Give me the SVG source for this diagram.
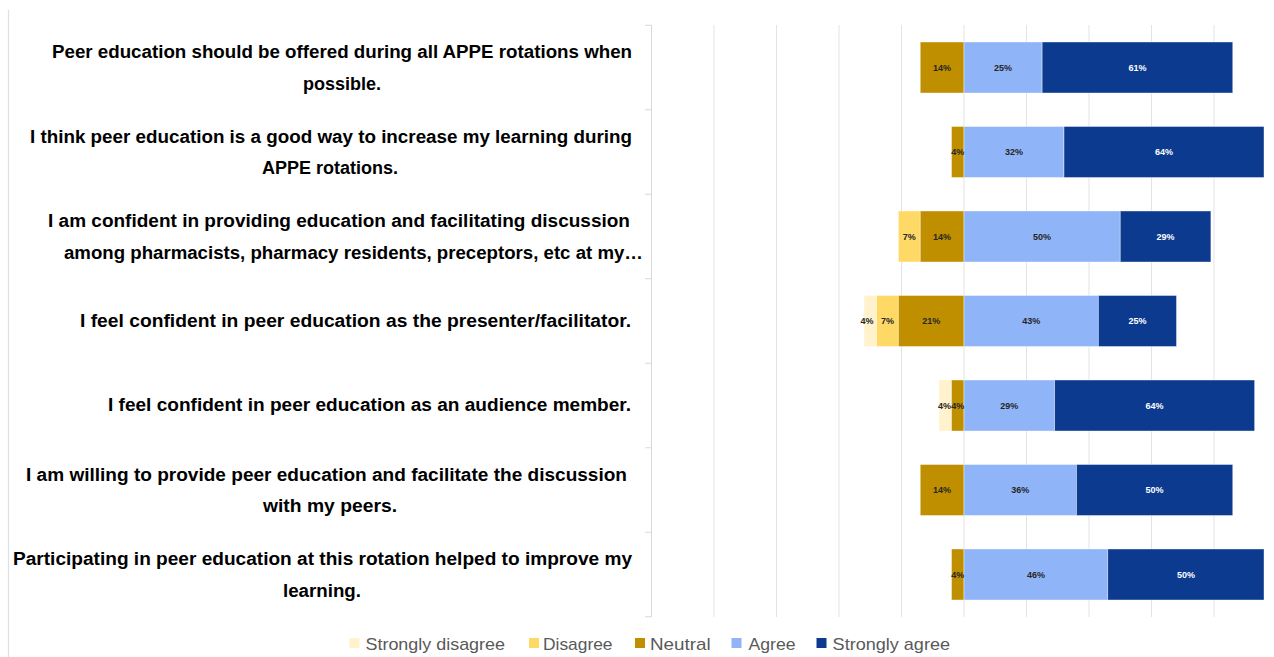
<svg xmlns="http://www.w3.org/2000/svg" width="1274" height="657" viewBox="0 0 1274 657">
<style>
.cat{font-family:"Liberation Sans",Arial,sans-serif;font-weight:bold;font-size:18px;fill:#000}
.dl{font-family:"Liberation Sans",Arial,sans-serif;font-weight:bold;font-size:9px;fill:#262626;text-anchor:middle}
.dlw{fill:#ffffff}
.lg{font-family:"Liberation Sans",Arial,sans-serif;font-size:17px;fill:#595959}
.grid{stroke:#e3e3e3;stroke-width:1;fill:none}
.sd{fill:#FFF2CC}.d{fill:#FFD966}.n{fill:#BF8F00}.a{fill:#8FB4F7}.sa{fill:#0B3A8F}
.seg{stroke:#ffffff;stroke-opacity:0.5;stroke-width:0.8}
</style>
<rect x="0" y="0" width="1274" height="657" fill="#ffffff"/>
<line x1="8.5" y1="10" x2="8.5" y2="657" stroke="#e0e0e0" stroke-width="1.2"/>
<g id="gridlines">
<line class="grid" x1="714" y1="25" x2="714" y2="617"/>
<line class="grid" x1="776.5" y1="25" x2="776.5" y2="617"/>
<line class="grid" x1="839" y1="25" x2="839" y2="617"/>
<line class="grid" x1="901.5" y1="25" x2="901.5" y2="617"/>
<line class="grid" x1="964" y1="25" x2="964" y2="617"/>
<line class="grid" x1="1026.5" y1="25" x2="1026.5" y2="617"/>
<line class="grid" x1="1089" y1="25" x2="1089" y2="617"/>
<line class="grid" x1="1151.5" y1="25" x2="1151.5" y2="617"/>
<line class="grid" x1="1214" y1="25" x2="1214" y2="617"/>
<line x1="651.5" y1="25" x2="651.5" y2="617" stroke="#d9d9d9" stroke-width="1"/>
<path d="M645 25.25H651.5M645 109.75H651.5M645 194.25H651.5M645 278.75H651.5M645 363.25H651.5M645 447.75H651.5M645 532.25H651.5M645 616.75H651.5" stroke="#d9d9d9" stroke-width="1"/>
</g>
<g id="connectors"></g>
<g id="row1">
<text class="cat" x="52" y="58" textLength="580" lengthAdjust="spacingAndGlyphs">Peer education should be offered during all APPE rotations when</text>
<text class="cat" x="303" y="90" textLength="78" lengthAdjust="spacingAndGlyphs">possible.</text>
<rect class="n seg" x="920.25" y="42" width="43.75" height="51"/>
<rect class="a seg" x="964" y="42" width="78.125" height="51"/>
<rect class="sa seg" x="1042.125" y="42" width="190.625" height="51"/>
<text class="dl" x="942.1" y="70.5">14%</text>
<text class="dl" x="1003.1" y="70.5">25%</text>
<text class="dl dlw" x="1137.4" y="70.5">61%</text>
</g>
<g id="row2">
<text class="cat" x="30" y="143" textLength="602" lengthAdjust="spacingAndGlyphs">I think peer education is a good way to increase my learning during</text>
<text class="cat" x="262" y="174" textLength="136" lengthAdjust="spacingAndGlyphs">APPE rotations.</text>
<rect class="n seg" x="951.5" y="126.5" width="12.5" height="51"/>
<rect class="a seg" x="964" y="126.5" width="100" height="51"/>
<rect class="sa seg" x="1064" y="126.5" width="200" height="51"/>
<text class="dl" x="957.75" y="155">4%</text>
<text class="dl" x="1014" y="155">32%</text>
<text class="dl dlw" x="1164" y="155">64%</text>
</g>
<g id="row3">
<text class="cat" x="48" y="227" textLength="582" lengthAdjust="spacingAndGlyphs">I am confident in providing education and facilitating discussion</text>
<text class="cat" x="64" y="259" textLength="579" lengthAdjust="spacingAndGlyphs">among pharmacists, pharmacy residents, preceptors, etc at my…</text>
<rect class="d seg" x="898.375" y="211" width="21.875" height="51"/>
<rect class="n seg" x="920.25" y="211" width="43.75" height="51"/>
<rect class="a seg" x="964" y="211" width="156.25" height="51"/>
<rect class="sa seg" x="1120.25" y="211" width="90.625" height="51"/>
<text class="dl" x="909.3" y="239.5">7%</text>
<text class="dl" x="942.1" y="239.5">14%</text>
<text class="dl" x="1042.1" y="239.5">50%</text>
<text class="dl dlw" x="1165.6" y="239.5">29%</text>
</g>
<g id="row4">
<text class="cat" x="80" y="327" textLength="551" lengthAdjust="spacingAndGlyphs">I feel confident in peer education as the presenter/facilitator.</text>
<rect class="sd seg" x="864" y="295.5" width="12.5" height="51"/>
<rect class="d seg" x="876.5" y="295.5" width="21.875" height="51"/>
<rect class="n seg" x="898.375" y="295.5" width="65.625" height="51"/>
<rect class="a seg" x="964" y="295.5" width="134.375" height="51"/>
<rect class="sa seg" x="1098.375" y="295.5" width="78.125" height="51"/>
<text class="dl" x="867" y="324">4%</text>
<text class="dl" x="887.4" y="324">7%</text>
<text class="dl" x="931.2" y="324">21%</text>
<text class="dl" x="1031.2" y="324">43%</text>
<text class="dl dlw" x="1137.4" y="324">25%</text>
</g>
<g id="row5">
<text class="cat" x="108" y="411" textLength="523" lengthAdjust="spacingAndGlyphs">I feel confident in peer education as an audience member.</text>
<rect class="sd seg" x="939" y="380" width="12.5" height="51"/>
<rect class="n seg" x="951.5" y="380" width="12.5" height="51"/>
<rect class="a seg" x="964" y="380" width="90.625" height="51"/>
<rect class="sa seg" x="1054.625" y="380" width="200" height="51"/>
<text class="dl" x="944.5" y="408.5">4%</text>
<text class="dl" x="957.75" y="408.5">4%</text>
<text class="dl" x="1009.3" y="408.5">29%</text>
<text class="dl dlw" x="1154.6" y="408.5">64%</text>
</g>
<g id="row6">
<text class="cat" x="26" y="481" textLength="601" lengthAdjust="spacingAndGlyphs">I am willing to provide peer education and facilitate the discussion</text>
<text class="cat" x="263" y="512" textLength="134" lengthAdjust="spacingAndGlyphs">with my peers.</text>
<rect class="n seg" x="920.25" y="464.5" width="43.75" height="51"/>
<rect class="a seg" x="964" y="464.5" width="112.5" height="51"/>
<rect class="sa seg" x="1076.5" y="464.5" width="156.25" height="51"/>
<text class="dl" x="942.1" y="493">14%</text>
<text class="dl" x="1020.25" y="493">36%</text>
<text class="dl dlw" x="1154.6" y="493">50%</text>
</g>
<g id="row7">
<text class="cat" x="13" y="565" textLength="619" lengthAdjust="spacingAndGlyphs">Participating in peer education at this rotation helped to improve my</text>
<text class="cat" x="283" y="597" textLength="78" lengthAdjust="spacingAndGlyphs">learning.</text>
<rect class="n seg" x="951.5" y="549" width="12.5" height="51"/>
<rect class="a seg" x="964" y="549" width="143.75" height="51"/>
<rect class="sa seg" x="1107.75" y="549" width="156.25" height="51"/>
<text class="dl" x="957.75" y="577.5">4%</text>
<text class="dl" x="1035.9" y="577.5">46%</text>
<text class="dl dlw" x="1185.9" y="577.5">50%</text>
</g>
<g id="legend">
<rect class="sd" x="349.5" y="638" width="10" height="10"/>
<text class="lg" x="365.5" y="649.5" textLength="139.5" lengthAdjust="spacingAndGlyphs">Strongly disagree</text>
<rect class="d" x="529" y="638" width="10" height="10"/>
<text class="lg" x="543" y="649.5" textLength="69.5" lengthAdjust="spacingAndGlyphs">Disagree</text>
<rect class="n" x="635" y="638" width="10" height="10"/>
<text class="lg" x="650" y="649.5" textLength="60.6" lengthAdjust="spacingAndGlyphs">Neutral</text>
<rect class="a" x="731.5" y="638" width="10" height="10"/>
<text class="lg" x="748.5" y="649.5" textLength="47" lengthAdjust="spacingAndGlyphs">Agree</text>
<rect class="sa" x="816.5" y="638" width="10" height="10"/>
<text class="lg" x="832.6" y="649.5" textLength="117.4" lengthAdjust="spacingAndGlyphs">Strongly agree</text>
</g>
</svg>
